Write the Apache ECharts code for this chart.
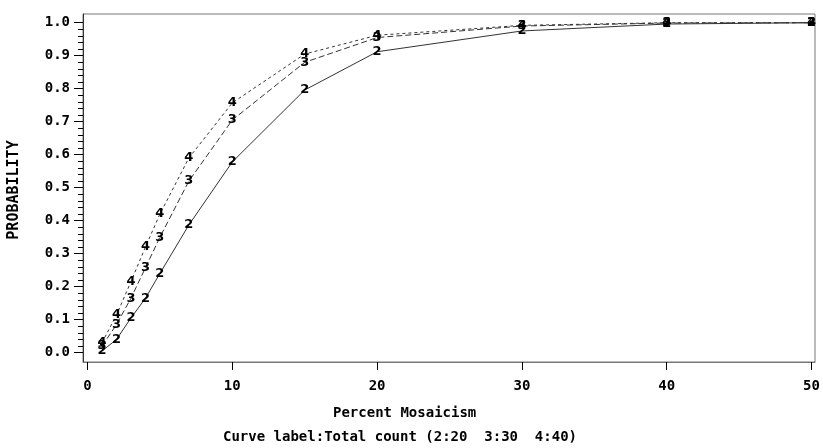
<!DOCTYPE html>
<html>
<head>
<meta charset="utf-8">
<script src="https://cdn.jsdelivr.net/npm/echarts@6/dist/echarts.min.js"></script>
<style>html,body{margin:0;padding:0;background:#fff}#c{width:823px;height:448px}</style>
</head>
<body>
<div id="c"></div>
<script>
// Data
const xValues = [1, 2, 3, 4, 5, 7, 10, 15, 20, 30, 40, 50];
const count20 = [0.005, 0.04, 0.105, 0.165, 0.24, 0.387, 0.578, 0.796, 0.912, 0.975, 0.996, 1.0];
const count30 = [0.02, 0.085, 0.165, 0.257, 0.35, 0.52, 0.705, 0.88, 0.955, 0.99, 0.999, 1.0];
const count40 = [0.03, 0.114, 0.215, 0.32, 0.42, 0.59, 0.757, 0.905, 0.962, 0.992, 1.0, 1.0];
const xTicks = [0, 10, 20, 30, 40, 50];
const yTicks = [0, 0.1, 0.2, 0.3, 0.4, 0.5, 0.6, 0.7, 0.8, 0.9, 1.0];
const yMinorTicks = [];
for (let i = 0; i < 10; i++) { for (let k = 1; k < 5; k++) yMinorTicks.push(+(i * 0.1 + k * 0.02).toFixed(2)); }

const mono = 'DejaVu Sans Mono';
function mk(name, ys, dash) {
  return {
    name: name, type: 'line',
    data: xValues.map((x, i) => [x, ys[i]]),
    symbol: 'circle', symbolSize: 2, showSymbol: true,
    itemStyle: { color: 'rgba(0,0,0,0)', borderWidth: 0 },
    lineStyle: { color: '#333', width: 1, type: dash },
    label: { show: true, position: 'inside', formatter: name, color: '#000',
             fontFamily: 'DejaVu Sans', fontWeight: 'bold', fontSize: 13 },
    labelLayout: { hideOverlap: false },
    emphasis: { disabled: true }
  };
}
const chart = echarts.init(document.getElementById('c'));
chart.setOption({
  animation: false,
  backgroundColor: '#fff',
  title: [
    { text: 'Percent Mosaicism', left: 333, top: 406, padding: 0,
      textStyle: { fontFamily: mono, fontWeight: 'bold', fontSize: 14, color: '#000' } },
    { text: 'Curve label:Total count (2:20  3:30  4:40)', left: 223, top: 430, padding: 0,
      textStyle: { fontFamily: mono, fontWeight: 'bold', fontSize: 14, color: '#000' } }
  ],
  graphic: [{
    type: 'text', x: 14, y: 190, rotation: Math.PI / 2,
    style: { text: 'PROBABILITY', fontFamily: mono, fontWeight: 'bold', fontSize: 15,
             fill: '#000', align: 'center', verticalAlign: 'middle' }
  }],
  grid: { left: 83, right: 8, top: 14, bottom: 86, show: true, borderColor: '#777', borderWidth: 1 },
  xAxis: {
    type: 'value', min: -0.31, max: 50.24,
    axisLine: { show: true, onZero: false, lineStyle: { color: '#777' } },
    axisTick: { show: true, inside: false, length: 8, customValues: xTicks, lineStyle: { color: '#000' } },
    axisLabel: { customValues: xTicks, margin: 17, color: '#000', fontFamily: mono, fontWeight: 'bold', fontSize: 14 },
    splitLine: { show: false }
  },
  yAxis: [{
    type: 'value', min: -0.0282, max: 1.0264,
    axisLine: { show: true, onZero: false, lineStyle: { color: '#333' } },
    axisTick: { show: true, inside: false, length: 9, customValues: yTicks, lineStyle: { color: '#000' } },
    axisLabel: { customValues: yTicks, margin: 13, color: '#000', fontFamily: mono, fontWeight: 'bold', fontSize: 14,
                 formatter: v => v.toFixed(1) },
    splitLine: { show: false }
  }, {
    type: 'value', min: -0.0282, max: 1.0264, position: 'left',
    axisLine: { show: false, onZero: false },
    axisTick: { show: true, inside: false, length: 5, customValues: yMinorTicks, lineStyle: { color: '#000' } },
    axisLabel: { show: false },
    splitLine: { show: false }
  }],
  series: [mk('2', count20, 'solid'), mk('3', count30, [6, 3]), mk('4', count40, [3, 3])]
});
</script>
</body>
</html>
